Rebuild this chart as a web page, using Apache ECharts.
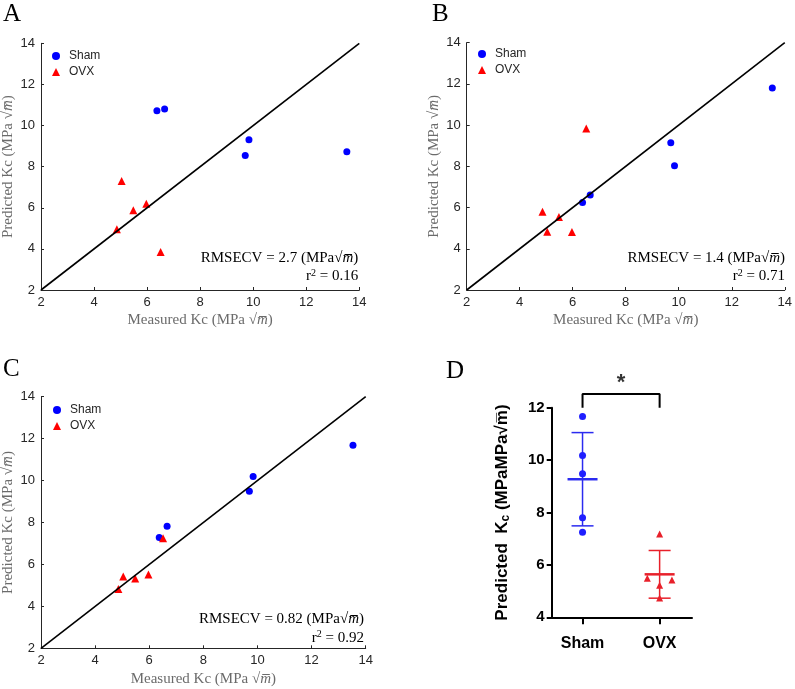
<!DOCTYPE html>
<html>
<head>
<meta charset="utf-8">
<script src="https://cdn.jsdelivr.net/npm/echarts@6/dist/echarts.min.js"></script>
<style>
  html, body { margin: 0; padding: 0; background: #fff; }
  #chart { width: 795px; height: 689px; }
</style>
</head>
<body>
<div id="chart"></div>
<script>
// measured values (same in panels A-C)
var measuredSham = [6.37, 6.66, 9.70, 9.84, 13.53];
var measuredOvx = [4.86, 5.04, 5.48, 5.97, 6.51];

// predicted values, panel A / B / C
var predShamA = [10.72, 10.81, 8.54, 9.31, 8.73];
var predOvxA = [4.95, 7.30, 5.88, 6.20, 3.85];
var predShamB = [6.25, 6.61, 9.15, 8.03, 11.80];
var predOvxB = [5.80, 4.83, 5.54, 4.82, 9.84];
var predShamC = [7.28, 7.82, 9.49, 10.19, 11.68];
var predOvxC = [4.83, 5.42, 5.33, 5.52, 7.25];

var rmsecv = ["2.7", "1.4", "0.82"];
var rSquared = ["0.16", "0.71", "0.92"];
var panelLetters = ["A", "B", "C", "D"];

// panel D
var groups = ["Sham", "OVX"];
var dSham = [11.66, 10.18, 9.48, 7.80, 7.25];
var dOvx = [7.18, 5.49, 5.22, 5.42, 4.74];
var dOvxJitter = [0, -0.16, 0, 0.16, 0];
var dMean = [9.27, 5.64];
var dSd = [1.78, 0.91];
var sigBracket = [[1, 12], [1, 12.52], [2, 12.52], [2, 12]];

var SERIF = "'Liberation Serif', 'Times New Roman', serif";
var SANS = "'Liberation Sans', Arial, sans-serif";
var BLUE = "#0000ff";
var RED = "#ff0000";

var chart = echarts.init(document.getElementById("chart"));

var grids = [
	{ left: 40.7, top: 43.3, width: 318.6, height: 246.7 },
	{ left: 466.7, top: 42.7, width: 319.3, height: 247.3 },
	{ left: 40.7, top: 396.7, width: 325, height: 251.6 },
	{ left: 551.7, top: 407.7, width: 140.3, height: 209.6 }
];

var nameRich = {
	t : { fontFamily : SERIF, fontSize : 15, color : "#6b6b6b" },
	m : { fontFamily : SERIF, fontSize : 15, color : "#6b6b6b", fontStyle : "italic" }
};

function scatterAxis(gridIndex, label) {
	return {
		gridIndex : gridIndex,
		type : "value",
		min : 2,
		max : 14,
		interval : 2,
		name : "{t|" + label + " Kc (MPa √}{m|m\u0305}{t|)}",
		nameLocation : "middle",
		nameTextStyle : { rich : nameRich },
		axisLine : { lineStyle : { color : "#262626", width : 1 } },
		axisTick : { inside : true, length : 3, lineStyle : { color : "#262626" } },
		axisLabel : { color : "#262626", fontFamily : SANS, fontSize : 13, margin : 6 },
		splitLine : { show : false }
	};
}

var xAxes = [];
var yAxes = [];
for (var i = 0; i < 3; i++) {
	var xa = scatterAxis(i, "Measured");
	xa.nameGap = 23;
	xAxes.push(xa);
	var ya = scatterAxis(i, "Predicted");
	ya.nameGap = 25;
	yAxes.push(ya);
}

xAxes.push({
	gridIndex : 3,
	type : "value",
	min : 0.6,
	max : 2.42,
	axisLine : { lineStyle : { color : "#000", width : 2 } },
	axisTick : { show : true, customValues : [ 1, 2 ], length : 7, lineStyle : { color : "#000", width : 2 } },
	axisLabel : {
		customValues : [ 1, 2 ],
		formatter : function(v) { return groups[Math.round(v) - 1]; },
		color : "#000", fontFamily : SANS, fontWeight : "bold", fontSize : 16, margin : 18
	},
	splitLine : { show : false }
});
yAxes.push({
	gridIndex : 3,
	type : "value",
	min : 4,
	max : 12,
	interval : 2,
	name : "{b|Predicted  K}{sub|c}{b| (MPaMPa√m\u0305)}",
	nameLocation : "middle",
	nameGap : 40,
	nameTextStyle : {
		rich : {
			b : { fontFamily : SANS, fontWeight : "bold", fontSize : 17, color : "#000" },
			sub : { fontFamily : SANS, fontWeight : "bold", fontSize : 12, color : "#000", verticalAlign : "bottom", padding : [ 7, 0, 0, 0 ] }
		}
	},
	axisLine : { lineStyle : { color : "#000", width : 2 } },
	axisTick : { length : 5, lineStyle : { color : "#000", width : 2 } },
	axisLabel : { color : "#000", fontFamily : SANS, fontWeight : "bold", fontSize : 15, margin : 7 },
	splitLine : { show : false }
});

function zip(xs, ys) {
	return xs.map(function(x, k) { return [ x, ys[k] ]; });
}

var predSham = [ predShamA, predShamB, predShamC ];
var predOvx = [ predOvxA, predOvxB, predOvxC ];

var series = [];
for (var p = 0; p < 3; p++) {
	series.push({
		name : "identity" + p, type : "line", xAxisIndex : p, yAxisIndex : p,
		data : [ [ 2, 2 ], [ 14, 14 ] ], symbol : "none", silent : true,
		lineStyle : { color : "#000", width : 1.6 }
	});
	series.push({
		name : "Sham", type : "scatter", xAxisIndex : p, yAxisIndex : p,
		data : zip(measuredSham, predSham[p]), symbol : "circle", symbolSize : 7,
		itemStyle : { color : BLUE, opacity : 1 }
	});
	series.push({
		name : "OVX", type : "scatter", xAxisIndex : p, yAxisIndex : p,
		data : zip(measuredOvx, predOvx[p]), symbol : "triangle", symbolSize : 8,
		itemStyle : { color : RED, opacity : 1 }
	});
}

// panel D: mean and SD bars
series.push({
	type : "custom", xAxisIndex : 3, yAxisIndex : 3, silent : true,
	data : dMean.map(function(m, k) { return [ k + 1, m, dSd[k] ]; }),
	renderItem : function(params, api) {
		var x = api.value(0), m = api.value(1), s = api.value(2);
		var c = api.coord([ x, m ]);
		var top = api.coord([ x, m + s ]);
		var bot = api.coord([ x, m - s ]);
		var col = params.dataIndex === 0 ? "#2b2bf0" : "#e8202a";
		return {
			type : "group",
			children : [
				{ type : "line", shape : { x1 : c[0], y1 : top[1], x2 : c[0], y2 : bot[1] }, style : { stroke : col, lineWidth : 1.5 } },
				{ type : "line", shape : { x1 : c[0] - 11, y1 : top[1], x2 : c[0] + 11, y2 : top[1] }, style : { stroke : col, lineWidth : 1.5 } },
				{ type : "line", shape : { x1 : c[0] - 11, y1 : bot[1], x2 : c[0] + 11, y2 : bot[1] }, style : { stroke : col, lineWidth : 1.5 } },
				{ type : "line", shape : { x1 : c[0] - 15, y1 : c[1], x2 : c[0] + 15, y2 : c[1] }, style : { stroke : col, lineWidth : 2.5 } }
			]
		};
	}
});
series.push({
	type : "scatter", xAxisIndex : 3, yAxisIndex : 3,
	data : dSham.map(function(v) { return [ 1, v ]; }),
	symbol : "circle", symbolSize : 7, itemStyle : { color : "#1f1fff", opacity : 1 }
});
series.push({
	type : "scatter", xAxisIndex : 3, yAxisIndex : 3,
	data : dOvx.map(function(v, k) { return [ 2 + dOvxJitter[k], v ]; }),
	symbol : "triangle", symbolSize : 7, itemStyle : { color : "#e8202a", opacity : 1 }
});
series.push({
	type : "line", xAxisIndex : 3, yAxisIndex : 3, clip : false, silent : true,
	data : sigBracket, symbol : "none",
	lineStyle : { color : "#000", width : 2 }
});
series.push({
	type : "scatter", xAxisIndex : 3, yAxisIndex : 3, clip : false, silent : true,
	data : [ [ 1.5, 12.95 ] ], symbolSize : 0,
	label : { show : true, formatter : "*", position : "inside", color : "#000", fontFamily : SANS, fontWeight : "bold", fontSize : 22 }
});

var legendPos = [ { left : 47, top : 45 }, { left : 473, top : 43 }, { left : 48, top : 399 } ];
var legends = legendPos.map(function(pos) {
	return {
		left : pos.left, top : pos.top, orient : "vertical", itemGap : 4,
		itemWidth : 8, itemHeight : 8, selectedMode : false,
		data : [ { name : "Sham", icon : "circle" }, { name : "OVX", icon : "triangle" } ],
		textStyle : { fontFamily : SANS, fontSize : 12, color : "#262626", padding : [ 0, 0, 0, 4 ] }
	};
});

var annot = [ { right : 358.3, y : 258 }, { right : 785, y : 257.7 }, { right : 364, y : 619.3 } ];
var graphics = [];
annot.forEach(function(a, k) {
	graphics.push({
		type : "text", x : a.right, y : a.y, silent : true,
		style : {
			text : "{t|RMSECV = " + rmsecv[k] + " (MPa√}{m|m\u0305}{t|)}",
			rich : { t : { fontFamily : SERIF, fontSize : 15, color : "#222" }, m : { fontFamily : SERIF, fontSize : 15, fontStyle : "italic", color : "#222" } },
			align : "right", verticalAlign : "middle"
		}
	});
	graphics.push({
		type : "text", x : a.right, y : a.y + 18.5, silent : true,
		style : {
			text : "{t|r}{s|2}{t| = " + rSquared[k] + "}",
			rich : { t : { fontFamily : SERIF, fontSize : 15, color : "#222" }, s : { fontFamily : SERIF, fontSize : 10, color : "#222", verticalAlign : "top", padding : [ 0, 0, 6, 0 ] } },
			align : "right", verticalAlign : "middle"
		}
	});
});
var letterPos = [ [ 3, 2 ], [ 432, 2 ], [ 3, 357 ], [ 446, 359 ] ];
letterPos.forEach(function(pos, k) {
	graphics.push({
		type : "text", x : pos[0], y : pos[1], silent : true,
		style : { text : panelLetters[k], fontFamily : SERIF, fontSize : 25, fill : "#000" }
	});
});

chart.setOption({
	backgroundColor : "#fff",
	animation : false,
	grid : grids,
	xAxis : xAxes,
	yAxis : yAxes,
	legend : legends,
	series : series,
	graphic : graphics
});
</script>
</body>
</html>
